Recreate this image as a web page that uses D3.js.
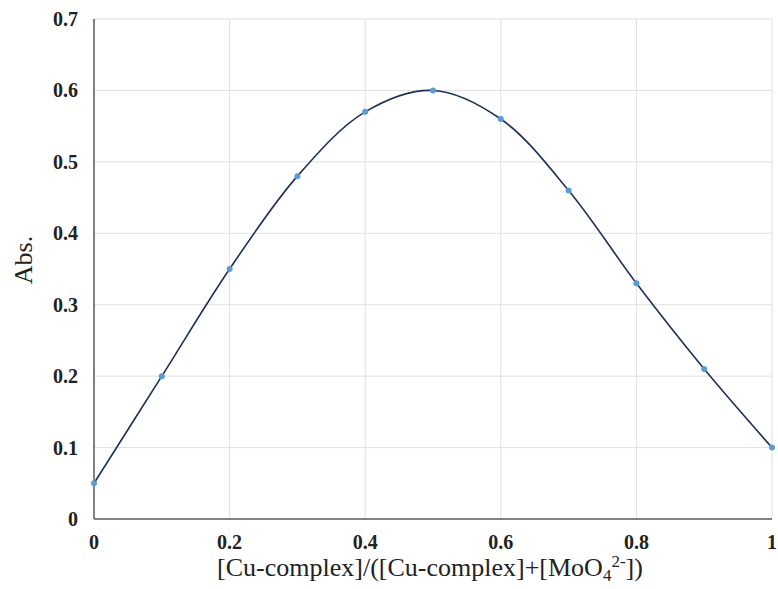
<!DOCTYPE html>
<html>
<head>
<meta charset="utf-8">
<script src="https://cdn.jsdelivr.net/npm/d3@7"></script>
<style>
  body { margin: 0; background: #fff; }
  text { font-family: "Liberation Serif", "Times New Roman", serif; }
</style>
</head>
<body>
<svg id="svg" width="778" height="589"></svg>
<script>
// data
const ratio = [0, 0.1, 0.2, 0.3, 0.4, 0.5, 0.6, 0.7, 0.8, 0.9, 1];
const absorb = [0.05, 0.2, 0.35, 0.48, 0.57, 0.6, 0.56, 0.46, 0.33, 0.21, 0.1];
const xTicks = [0, 0.2, 0.4, 0.6, 0.8, 1];
const yTicks = [0, 0.1, 0.2, 0.3, 0.4, 0.5, 0.6, 0.7];

const svg = d3.select('#svg');
const pLeft = 94, pRight = 772, pTop = 19, pBottom = 519;

const x = d3.scaleLinear().domain([0, 1]).range([pLeft, pRight]);
const y = d3.scaleLinear().domain([0, 0.7]).range([pBottom, pTop]);

// grid
svg.append('g').selectAll('line').data(yTicks.filter(d => d > 0)).join('line')
  .attr('x1', pLeft).attr('x2', pRight)
  .attr('y1', d => y(d)).attr('y2', d => y(d))
  .attr('stroke', '#e0e0e0').attr('stroke-width', 1);
svg.append('g').selectAll('line').data(xTicks.filter(d => d > 0)).join('line')
  .attr('x1', d => x(d)).attr('x2', d => x(d))
  .attr('y1', pTop).attr('y2', pBottom)
  .attr('stroke', '#e0e0e0').attr('stroke-width', 1);

// axes
svg.append('line').attr('x1', pLeft).attr('x2', pLeft).attr('y1', pTop).attr('y2', pBottom)
  .attr('stroke', '#595959').attr('stroke-width', 1.5);
svg.append('line').attr('x1', pLeft).attr('x2', pRight).attr('y1', pBottom).attr('y2', pBottom)
  .attr('stroke', '#595959').attr('stroke-width', 1.5);

// tick labels
svg.append('g').selectAll('text').data(yTicks).join('text')
  .attr('x', 78).attr('y', d => y(d)).attr('dy', '0.35em')
  .attr('text-anchor', 'end').attr('font-size', 20).attr('font-weight', 'bold')
  .attr('fill', '#222')
  .text(d => d === 0 ? '0' : d3.format('.1f')(d));
svg.append('g').selectAll('text').data(xTicks).join('text')
  .attr('x', d => x(d)).attr('y', 549)
  .attr('text-anchor', 'middle').attr('font-size', 20).attr('font-weight', 'bold')
  .attr('fill', '#222')
  .text(d => (d === 0 || d === 1) ? String(d) : d3.format('.1f')(d));

// axis titles
const xt = svg.append('text').attr('x', 430).attr('y', 576)
  .attr('text-anchor', 'middle').attr('font-size', 26).attr('fill', '#222');
xt.append('tspan').text('[Cu-complex]/([Cu-complex]+[MoO');
xt.append('tspan').attr('font-size', 17).attr('dy', 5).text('4');
xt.append('tspan').attr('font-size', 17).attr('dy', -14).text('2-');
xt.append('tspan').attr('dy', 9).text('])');

svg.append('text')
  .attr('transform', 'translate(32,260) rotate(-90)')
  .attr('text-anchor', 'middle').attr('font-size', 26).attr('fill', '#222')
  .text('Abs.');

// smooth line
const pts = ratio.map((r, i) => [r, absorb[i]]);
svg.append('path')
  .attr('d', d3.line().x(d => x(d[0])).y(d => y(d[1])).curve(d3.curveCatmullRom.alpha(0.5))(pts))
  .attr('fill', 'none').attr('stroke', '#1f2f55').attr('stroke-width', 1.6);

// markers
svg.append('g').selectAll('circle').data(pts).join('circle')
  .attr('cx', d => x(d[0])).attr('cy', d => y(d[1])).attr('r', 3)
  .attr('fill', '#5b9bd5');
</script>
</body>
</html>
